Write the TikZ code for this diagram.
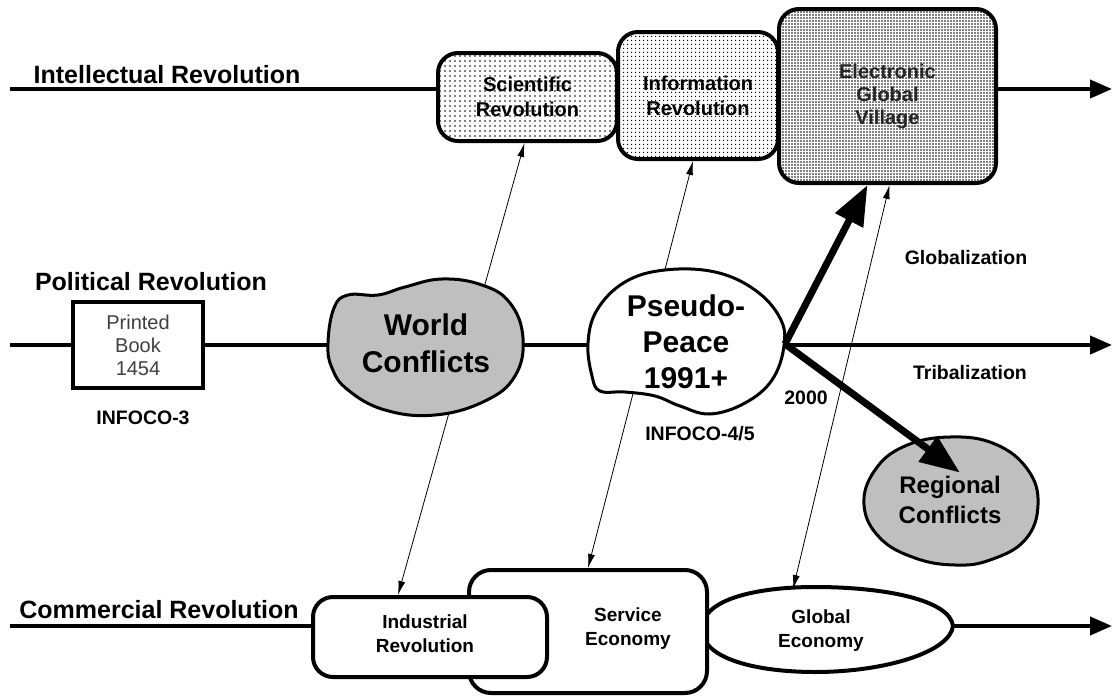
\documentclass[tikz,border=0pt]{standalone}
\usepackage{fontspec}
\setmainfont{Liberation Sans}
\usetikzlibrary{arrows.meta,patterns.meta,backgrounds}

\tikzset{
  axis/.style={line width=4pt, -{Triangle[length=22pt,width=18pt]}},
  link/.style={line width=0.8pt, {Latex[length=14pt,width=7pt]}-{Latex[length=14pt,width=7pt]}},
  trend/.style={line width=7pt, -{Triangle[length=40pt,width=30pt]}},
  era/.style={draw, line width=4pt, rounded corners=20pt, align=center,
              font=\fontsize{20}{25}\selectfont\bfseries, inner sep=0pt},
  sparse/.style={era, preaction={fill=white}, pattern={Dots[distance=5pt,radius=0.85pt]}},
  medium/.style={era, preaction={fill=white}, pattern={Dots[distance=4pt,radius=0.9pt]}},
  dense/.style={era, preaction={fill=white}, pattern={Dots[distance=3pt,radius=0.95pt]}},
  econ/.style={draw, fill=white, line width=4pt, rounded corners=22pt, inner sep=0pt},
  econtext/.style={align=center, font=\fontsize{19}{24}\selectfont\bfseries, inner sep=0pt},
  blob/.style={line width=3pt, draw},
  heading/.style={font=\fontsize{25}{27}\selectfont\bfseries, inner sep=0pt},
  tag/.style={font=\fontsize{19.5}{21}\selectfont\bfseries, inner sep=0pt},
}

\begin{document}
\begin{tikzpicture}[x=1pt,y=-1pt]
\useasboundingbox (0,0) rectangle (1114,696);

% row labels
\node[heading] (lint) at (167,75) {Intellectual Revolution};
\node[heading] (lpol) at (151,282) {Political Revolution};
\node[heading] (lcom) at (159,610) {Commercial Revolution};

% line end points
\coordinate (topL) at (10,89);   \coordinate (topR) at (1112,89);
\coordinate (midL) at (10,345);  \coordinate (midR) at (1112,345);
\coordinate (botL) at (10,626);  \coordinate (botR) at (1112,626);
\coordinate (split) at (785,344);

% intellectual revolution boxes
\node[sparse, minimum width=179pt, minimum height=88pt] (sci) at (527.5,97) {Scientific\\Revolution};
\node[medium, minimum width=160pt, minimum height=127pt] (info) at (698,95.5) {Information\\Revolution};
\node[dense, minimum width=217pt, minimum height=174pt, font=\fontsize{20}{23}\selectfont\bfseries, text=black!85] (egv) at (887.5,96) {Electronic\\Global\\Village};

% political revolution
\node[draw, fill=white, line width=4pt, minimum width=130pt, minimum height=86pt, inner sep=0pt,
      align=center, font=\fontsize{20}{23}\selectfont, text=black!75] (book) at (138,345) {Printed\\Book\\1454};
\node[tag] (inf3) at (143,418) {INFOCO-3};

\draw[blob, fill=black!25] plot[smooth cycle, tension=0.7] coordinates {
  (328,343) (334,308) (348,295) (378,295) (405,287) (442,279) (482,285) (510,303)
  (523,338) (515,376) (485,401) (435,415) (385,410) (348,390) (332,368)};
\node[font=\fontsize{30}{37}\selectfont\bfseries, align=center] (wc) at (426,343) {World\\Conflicts};

\draw[blob, fill=white] plot[smooth cycle, tension=0.65] coordinates {
  (588,343) (597,310) (625,282) (665,270) (715,272) (755,290) (780,318) (784,346)
  (772,380) (745,403) (710,414) (680,406) (655,396) (625,392) (600,391) (592,376)};
\node[font=\fontsize{30}{36}\selectfont\bfseries, align=center] (pp) at (686,342) {Pseudo-\\Peace\\1991+};
\node[tag] (inf45) at (700,434) {INFOCO-4/5};
\node[tag] (y2000) at (806,398) {2000};

\node[tag] (glob) at (966,258) {Globalization};
\node[tag] (trib) at (970,373) {Tribalization};

\draw[blob, fill=black!25] plot[smooth cycle, tension=0.7] coordinates {
  (864,505) (875,470) (905,446) (950,437) (995,444) (1028,470) (1038,505)
  (1025,540) (990,560) (955,565) (915,558) (880,538)};
\node[font=\fontsize{24}{30}\selectfont\bfseries, align=center] (reg) at (950,500) {Regional\\Conflicts};

% commercial revolution
\draw[blob, line width=4pt, fill=white] (702,629) .. controls (702,598) and (760,587) .. (815,587)
  .. controls (885,587) and (950,600) .. (953,626)
  .. controls (950,652) and (885,672) .. (815,672)
  .. controls (760,672) and (702,660) .. (702,629) -- cycle;
\node[econ, minimum width=238pt, minimum height=123pt] (svc) at (588,631.5) {};
\node[econ, minimum width=234pt, minimum height=80pt, rounded corners=20pt] (ind) at (430,637) {};
\node[econtext] (ge) at (821,631) {Global\\Economy};
\node[econtext] (svct) at (628,629) {Service\\Economy};
\node[econtext] (indt) at (425,634) {Industrial\\Revolution};
\coordinate (geTop) at (793,589);

% growth trends out of the split point
\draw[trend] (split) -- ([xshift=-20pt]egv.south);
\draw[trend] (split) -- ([xshift=10pt]reg.north);

\begin{scope}[on background layer]
  \draw[axis] (topL) -- (topR);
  \draw[axis] (midL) -- (midR);
  \draw[axis] (botL) -- (botR);
  \draw[link] ([xshift=-3pt]sci.south) -- ([xshift=-32pt]ind.north);
  \draw[link] ([xshift=-5pt]info.south) -- (svc.north);
  \draw[link] ([xshift=2pt]egv.south) -- (geTop);
\end{scope}
\end{tikzpicture}
\end{document}
